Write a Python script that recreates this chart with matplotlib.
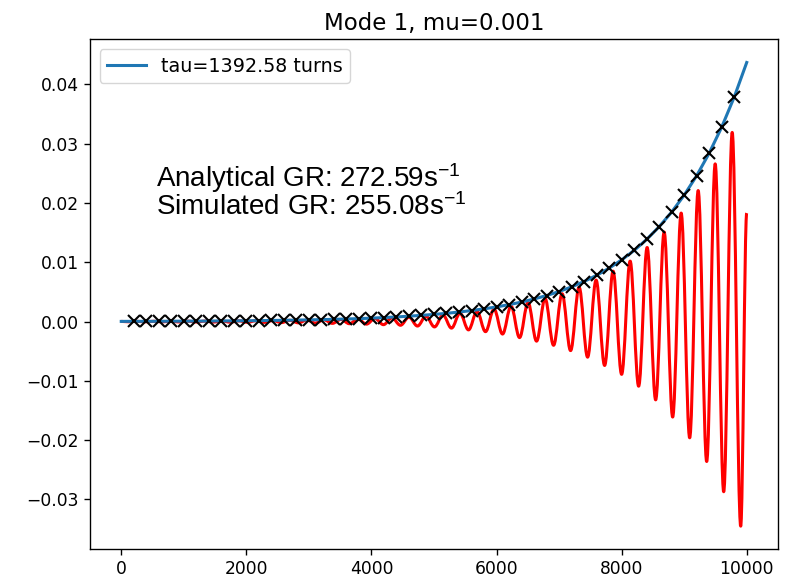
import numpy as np
import matplotlib.pyplot as plt
from matplotlib.path import Path
from matplotlib.patches import PathPatch

plt.rcParams['mathtext.fontset'] = 'custom'
plt.rcParams['mathtext.rm'] = 'Liberation Sans'
plt.rcParams['mathtext.it'] = 'Liberation Sans:italic'
plt.rcParams['mathtext.bf'] = 'Liberation Sans:bold'

# exponential fit, sampled every 200 turns (0 .. 10000)
fit_turns = np.arange(0, 10001, 200)
fit_values = [0.00003, 0.00004, 0.00004, 0.00005, 0.00006, 0.00007, 0.00008, 0.00009,
              0.00011, 0.00012, 0.00014, 0.00016, 0.00019, 0.00022, 0.00025, 0.00029,
              0.00033, 0.00038, 0.00044, 0.00050, 0.00058, 0.00068, 0.00078, 0.00091,
              0.00105, 0.00121, 0.00139, 0.00161, 0.00186, 0.00215, 0.00247, 0.00286,
              0.00329, 0.00381, 0.00439, 0.00507, 0.00585, 0.00676, 0.00780, 0.00901,
              0.01040, 0.01200, 0.01385, 0.01600, 0.01847, 0.02132, 0.02461, 0.02841,
              0.03280, 0.03786, 0.04370]

# simulated signal: troughs and peaks
trough_turns = np.arange(112, 9905, 272)
trough_values = [-0.00003, -0.00004, -0.00005, -0.00006, -0.00007, -0.00008, -0.00010,
                 -0.00012, -0.00014, -0.00017, -0.00021, -0.00025, -0.00030, -0.00036,
                 -0.00043, -0.00052, -0.00062, -0.00075, -0.0009, -0.0011, -0.0014,
                 -0.0017, -0.0021, -0.0027, -0.0033, -0.0040, -0.0049, -0.0060, -0.0074,
                 -0.0089, -0.0109, -0.0132, -0.0161, -0.0196, -0.0236, -0.0287, -0.0345]
peak_turns = np.arange(248, 9769, 272)
peak_values = [0.00004, 0.00005, 0.00006, 0.00007, 0.00008, 0.00010, 0.00012, 0.00014,
               0.00017, 0.00021, 0.00025, 0.00030, 0.00036, 0.00043, 0.00052, 0.00062,
               0.00075, 0.0009, 0.0011, 0.0014, 0.0017, 0.0021, 0.0026, 0.0032, 0.0039,
               0.0047, 0.0058, 0.0070, 0.0085, 0.0102, 0.0125, 0.0151, 0.0183, 0.0221,
               0.0266, 0.0319]
start_turn, start_value = 0, 0.00003
end_turn, end_value = 10000, 0.0183

tau = 1392.58
analytical_gr = 272.59
simulated_gr = 255.08

# put the extremes in order along the signal
sig_x = [start_turn]
sig_y = [start_value]
for i in range(len(trough_turns)):
    sig_x.append(trough_turns[i])
    sig_y.append(trough_values[i])
    if i < len(peak_turns):
        sig_x.append(peak_turns[i])
        sig_y.append(peak_values[i])
sig_x.append(end_turn)
sig_y.append(end_value)

# smooth half waves between extremes (horizontal tangents at the extremes)
k = 1 - 2 / np.pi
verts = [(sig_x[0], sig_y[0])]
codes = [Path.MOVETO]
for x0, y0, x1, y1 in zip(sig_x[:-1], sig_y[:-1], sig_x[1:], sig_y[1:]):
    dx = x1 - x0
    verts += [(x0 + k * dx, y0), (x1 - k * dx, y1), (x1, y1)]
    codes += [Path.CURVE4] * 3

s = 1.23
fig = plt.figure(figsize=(7.9, 5.84), dpi=100)
ax = fig.add_axes([0.1139, 0.0594, 0.8709, 0.8733])

ax.add_patch(PathPatch(Path(verts, codes), facecolor='none', edgecolor='red',
                       lw=2.2, joinstyle='round', capstyle='butt'))
ax.plot(fit_turns, fit_values, color='#1f77b4', lw=2.2, label=f'tau={tau} turns')
ax.plot(fit_turns[1:-1], fit_values[1:-1], 'x', color='black', ms=8, mew=1.5)
ax.autoscale_view()

ax.set_title('Mode 1, mu=0.001', fontsize=16.5, pad=7)
ax.tick_params(labelsize=10 * s, length=3.5 * s, width=0.8 * s)
for sp in ax.spines.values():
    sp.set_linewidth(0.8 * s)
ax.legend(loc='upper left', fontsize=13.8)

ax.text(0.096, 0.711, f'Analytical GR: {analytical_gr}s$^{{-1}}$', transform=ax.transAxes,
        family='Liberation Sans', fontsize=20, va='baseline')
ax.text(0.096, 0.6555, f'Simulated GR: {simulated_gr}s$^{{-1}}$', transform=ax.transAxes,
        family='Liberation Sans', fontsize=20, va='baseline')

fig.savefig('out.png', dpi=100)
